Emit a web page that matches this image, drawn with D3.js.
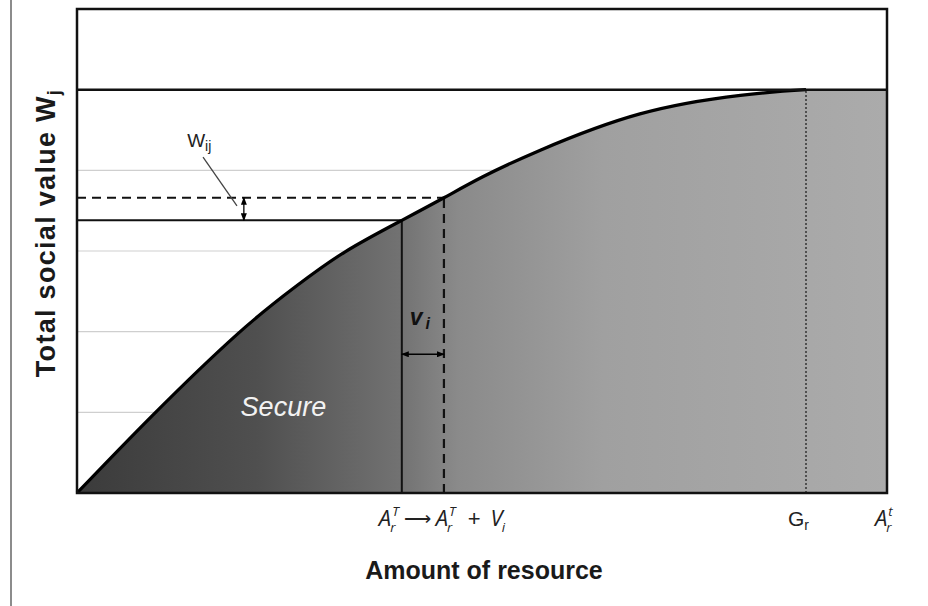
<!DOCTYPE html>
<html>
<head>
<meta charset="utf-8">
<script src="https://cdn.jsdelivr.net/npm/d3@7"></script>
<style>
  body { margin: 0; background: #fff; }
  text { font-family: "Liberation Sans", Arial, sans-serif; }
  .math { font-family: "Open Sans", "Noto Sans", sans-serif; font-style: italic; }
</style>
</head>
<body>
<script>
// curve (resource amount -> total social value)
const resource = [0, 0.93, 1.98, 2.7, 3.31, 4.01, 4.53, 5.01, 5.72, 6.95, 8.19, 9];
const socialValue = [0, 0.96, 1.97, 2.56, 2.99, 3.38, 3.66, 3.92, 4.25, 4.70, 4.93, 5.0];
const gridLevels = [1, 2, 3, 4];
const ceiling = 5;
const yMax = 6;

// annotation positions (data units)
const aT = 4.01;        // A_r^T
const aTV = 4.53;       // A_r^T + V_i
const gR = 9;           // G_r
const aTotal = 10;      // A_r^t
const wLevel = 3.38;
const wLevelNew = 3.66;
const wArrowX = 2.06;
const vArrowY = 1.72;

const W = 928, H = 606;
const margin = {left: 77, top: 9, right: 41, bottom: 113};
const w = W - margin.left - margin.right;
const h = H - margin.top - margin.bottom;

const svg = d3.select('body').append('svg')
  .attr('width', W)
  .attr('height', H);

const x = d3.scaleLinear().domain([0, aTotal]).range([margin.left, margin.left + w]);
const y = d3.scaleLinear().domain([0, yMax]).range([margin.top + h, margin.top]);

const defs = svg.append('defs');
const grad = defs.append('linearGradient')
  .attr('id', 'fillGrad')
  .attr('gradientUnits', 'userSpaceOnUse')
  .attr('x1', x(0)).attr('x2', x(aTotal)).attr('y1', 0).attr('y2', 0);
[[0, '#3b3b3b'], [0.22, '#4f4f4f'], [0.4, '#727272'], [0.47, '#8a8a8a'], [0.65, '#a0a0a0'], [1, '#ababab']]
  .forEach(s => grad.append('stop').attr('offset', s[0]).attr('stop-color', s[1]));

defs.append('marker')
  .attr('id', 'arr')
  .attr('markerUnits', 'userSpaceOnUse')
  .attr('markerWidth', 8).attr('markerHeight', 6)
  .attr('refX', 7).attr('refY', 3)
  .attr('orient', 'auto-start-reverse')
  .append('path').attr('d', 'M0,0 L8,3 L0,6 Z').attr('fill', '#000');

// page edge line on the left
svg.append('line')
  .attr('x1', 11).attr('x2', 11).attr('y1', 0).attr('y2', H)
  .attr('stroke', '#8c8c8c').attr('stroke-width', 2);

// grid lines
svg.selectAll('.grid')
  .data(gridLevels)
  .enter()
  .append('line')
  .attr('class', 'grid')
  .attr('x1', x(0)).attr('x2', x(aTotal))
  .attr('y1', d => y(d)).attr('y2', d => y(d))
  .attr('stroke', '#cfcfcf').attr('stroke-width', 1.2);

const pts = resource.map((d, i) => [d, socialValue[i]]);

const area = d3.area()
  .x(d => x(d[0]))
  .y0(y(0))
  .y1(d => y(d[1]))
  .curve(d3.curveNatural);

svg.append('path')
  .datum(pts)
  .attr('d', area)
  .attr('fill', 'url(#fillGrad)');

// plateau between G_r and A_r^t
svg.append('rect')
  .attr('x', x(gR) - 0.5).attr('y', y(ceiling))
  .attr('width', x(aTotal) - x(gR) + 0.5).attr('height', y(0) - y(ceiling))
  .attr('fill', 'url(#fillGrad)');

// Secure label
svg.append('text')
  .attr('x', x(2.02)).attr('y', y(0.95))
  .attr('font-style', 'italic')
  .attr('font-size', 27)
  .attr('fill', '#f2f2f2')
  .text('Secure');

// Gr dotted line
svg.append('line')
  .attr('x1', x(gR)).attr('x2', x(gR))
  .attr('y1', y(0)).attr('y2', y(ceiling))
  .attr('stroke', '#333').attr('stroke-width', 1.5)
  .attr('stroke-dasharray', '2,2');

// W levels
svg.append('line')
  .attr('x1', x(0)).attr('x2', x(aT))
  .attr('y1', y(wLevel)).attr('y2', y(wLevel))
  .attr('stroke', '#111').attr('stroke-width', 2);
svg.append('line')
  .attr('x1', x(0)).attr('x2', x(aTV))
  .attr('y1', y(wLevelNew)).attr('y2', y(wLevelNew))
  .attr('stroke', '#111').attr('stroke-width', 2.2)
  .attr('stroke-dasharray', '9,6');

// verticals at A and A+V
svg.append('line')
  .attr('x1', x(aT)).attr('x2', x(aT))
  .attr('y1', y(0)).attr('y2', y(wLevel))
  .attr('stroke', '#111').attr('stroke-width', 2);
svg.append('line')
  .attr('x1', x(aTV)).attr('x2', x(aTV))
  .attr('y1', y(0)).attr('y2', y(wLevelNew))
  .attr('stroke', '#111').attr('stroke-width', 2.2)
  .attr('stroke-dasharray', '9,6');

// curve outline
const line = d3.line()
  .x(d => x(d[0]))
  .y(d => y(d[1]))
  .curve(d3.curveNatural);
svg.append('path')
  .datum(pts)
  .attr('d', line)
  .attr('fill', 'none')
  .attr('stroke', '#000').attr('stroke-width', 3.2);

// ceiling line
svg.append('line')
  .attr('x1', x(0)).attr('x2', x(aTotal))
  .attr('y1', y(ceiling)).attr('y2', y(ceiling))
  .attr('stroke', '#111').attr('stroke-width', 2.5);

// frame
svg.append('rect')
  .attr('x', x(0)).attr('y', y(yMax))
  .attr('width', x(aTotal) - x(0)).attr('height', y(0) - y(yMax))
  .attr('fill', 'none')
  .attr('stroke', '#111').attr('stroke-width', 2.5);

// arrows
svg.append('line')
  .attr('x1', x(wArrowX)).attr('x2', x(wArrowX))
  .attr('y1', y(wLevel)).attr('y2', y(wLevelNew))
  .attr('stroke', '#000').attr('stroke-width', 1.3)
  .attr('marker-start', 'url(#arr)').attr('marker-end', 'url(#arr)');
svg.append('line')
  .attr('x1', x(aT)).attr('x2', x(aTV))
  .attr('y1', y(vArrowY)).attr('y2', y(vArrowY))
  .attr('stroke', '#000').attr('stroke-width', 1.3)
  .attr('marker-start', 'url(#arr)').attr('marker-end', 'url(#arr)');

// v_i label
const vt = svg.append('text')
  .attr('x', x(aT) + 8).attr('y', y(vArrowY) - 29)
  .attr('font-weight', 'bold').attr('font-style', 'italic')
  .attr('font-size', 23).attr('fill', '#111');
vt.append('tspan').text('v');
vt.append('tspan').attr('dx', 3).attr('dy', 4).attr('font-size', 16).text('i');

// W_ij label with leader
svg.append('line')
  .attr('x1', x(1.556)).attr('y1', y(4.165))
  .attr('x2', x(1.975)).attr('y2', y(3.558))
  .attr('stroke', '#444').attr('stroke-width', 1.3);
const wt = svg.append('text')
  .attr('x', x(1.36)).attr('y', y(4.29))
  .attr('font-size', 19).attr('fill', '#222');
wt.append('tspan').text('W');
wt.append('tspan').attr('dy', 4).attr('font-size', 14).text('ij');

// helper: base letter with stacked sub and sup
function symbol(x0, yb, base, sub, sup, size) {
  const g = svg.append('text').attr('class', 'math')
    .attr('font-size', size).attr('fill', '#222');
  g.append('tspan').attr('x', x0).attr('y', yb).text(base);
  const bw = g.node().getComputedTextLength();
  let end = x0 + bw;
  if (sub) {
    const s = svg.append('text').attr('class', 'math')
      .attr('x', x0 + bw - 1).attr('y', yb + 6).attr('font-size', size * 0.6).attr('fill', '#222')
      .text(sub);
    end = Math.max(end, x0 + bw - 1 + s.node().getComputedTextLength());
  }
  if (sup) {
    const s = svg.append('text').attr('class', 'math')
      .attr('x', x0 + bw + 1).attr('y', yb - 10).attr('font-size', size * 0.6).attr('fill', '#222')
      .text(sup);
    end = Math.max(end, x0 + bw + 1 + s.node().getComputedTextLength());
  }
  return end;
}
function plain(x0, yb, str, size) {
  const t = svg.append('text')
    .attr('x', x0).attr('y', yb).attr('font-size', size).attr('fill', '#222')
    .attr('font-family', '"DejaVu Sans", sans-serif')
    .text(str);
  return x0 + t.node().getComputedTextLength();
}

const labY = y(0) + 33;
let cx = x(aT) - 23;
cx = symbol(cx, labY, 'A', 'r', 'T', 22);
cx = plain(cx + 5, labY - 1, '\u27F6', 19);
cx = symbol(cx + 5, labY, 'A', 'r', 'T', 22);
cx = plain(cx + 12, labY, '+', 22);
symbol(cx + 10, labY, 'V', 'i', null, 22);

// G_r
const gt = svg.append('text')
  .attr('x', x(gR) - 18).attr('y', labY)
  .attr('font-size', 21).attr('fill', '#222');
gt.append('tspan').text('G');
gt.append('tspan').attr('dy', 4).attr('font-size', 14).text('r');

// A_r^t
symbol(x(aTotal) - 12, labY, 'A', 'r', 't', 22);

// axis titles
svg.append('text')
  .attr('x', margin.left + w / 2 + 2).attr('y', 579)
  .attr('text-anchor', 'middle')
  .attr('font-weight', 'bold').attr('font-size', 25).attr('fill', '#1a1a1a')
  .text('Amount of resource');

const yt = svg.append('text')
  .attr('transform', 'translate(55,' + 233 + ') rotate(-90)')
  .attr('text-anchor', 'middle')
  .attr('font-weight', 'bold').attr('font-size', 27).attr('letter-spacing', 1.3)
  .attr('fill', '#1a1a1a');
yt.append('tspan').text('Total social value W');
yt.append('tspan').attr('dy', 5).attr('font-size', 18).text('j');
</script>
</body>
</html>
